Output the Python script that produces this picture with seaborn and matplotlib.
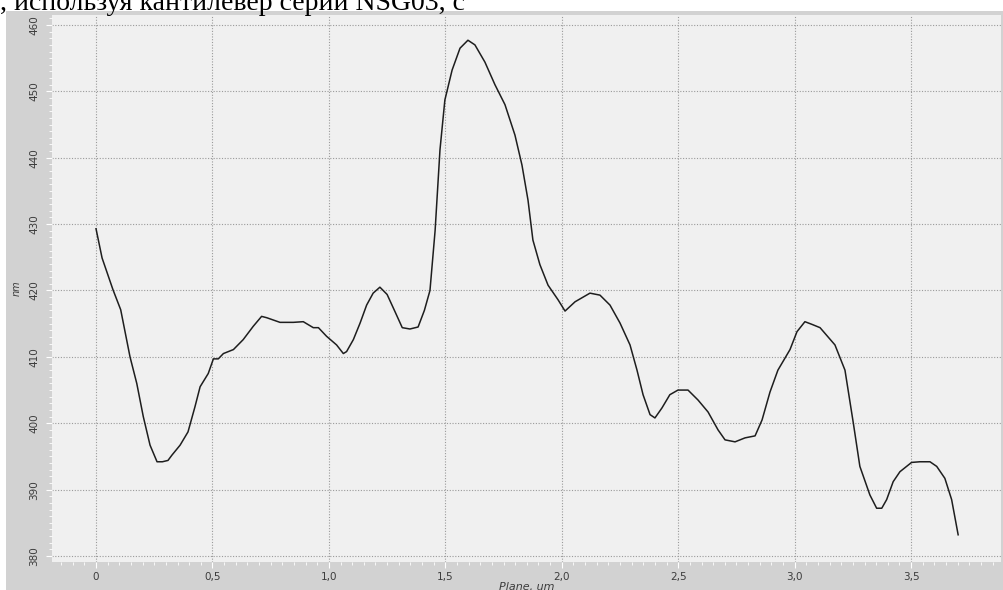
import numpy as np
import pandas as pd
import matplotlib
matplotlib.use("Agg")
import matplotlib.pyplot as plt
from matplotlib.patches import Rectangle
from matplotlib.ticker import MultipleLocator
import seaborn as sns

# profile
plane_um = [0, 0.026, 0.073, 0.106, 0.146, 0.175, 0.203, 0.232, 0.262, 0.285,
            0.309, 0.326, 0.361, 0.395, 0.425, 0.447, 0.482, 0.504, 0.525, 0.547,
            0.59, 0.632, 0.675, 0.711, 0.733, 0.79, 0.847, 0.89, 0.933, 0.955,
            0.99, 1.033, 1.062, 1.076, 1.105, 1.134, 1.162, 1.19, 1.219, 1.25,
            1.284, 1.315, 1.348, 1.383, 1.41, 1.434, 1.456, 1.477, 1.498, 1.529,
            1.563, 1.597, 1.627, 1.67, 1.713, 1.756, 1.799, 1.829, 1.855, 1.876,
            1.906, 1.941, 1.984, 2.014, 2.057, 2.121, 2.164, 2.207, 2.25, 2.293,
            2.323, 2.349, 2.379, 2.4, 2.43, 2.464, 2.499, 2.542, 2.585, 2.628,
            2.671, 2.701, 2.744, 2.787, 2.83, 2.86, 2.894, 2.928, 2.98, 3.01,
            3.044, 3.074, 3.109, 3.173, 3.216, 3.252, 3.28, 3.323, 3.352, 3.374,
            3.395, 3.423, 3.452, 3.502, 3.538, 3.581, 3.61, 3.645, 3.674, 3.702]
height_nm = [429.3, 424.9, 420.1, 417.1, 410.0, 406.0, 401.0, 396.7, 394.2, 394.2,
             394.4, 395.2, 396.7, 398.7, 402.5, 405.5, 407.5, 409.7, 409.7, 410.5,
             411.1, 412.6, 414.6, 416.1, 415.9, 415.2, 415.2, 415.3, 414.4, 414.4,
             413.1, 411.8, 410.5, 410.8, 412.6, 415.1, 417.8, 419.6, 420.5, 419.4,
             416.8, 414.4, 414.2, 414.5, 417.0, 420.0, 429.0, 441.2, 448.7, 453.2,
             456.5, 457.7, 457.0, 454.4, 451.0, 448.0, 443.4, 438.9, 433.6, 427.6,
             423.9, 420.8, 418.6, 416.9, 418.3, 419.6, 419.3, 417.8, 415.1, 411.8,
             408.0, 404.3, 401.3, 400.8, 402.3, 404.3, 405.0, 405.0, 403.5, 401.7,
             399.0, 397.5, 397.2, 397.8, 398.1, 400.5, 404.7, 408.0, 411.1, 413.8,
             415.3, 414.9, 414.4, 411.8, 408.0, 400.0, 393.5, 389.2, 387.2, 387.2,
             388.5, 391.2, 392.7, 394.1, 394.2, 394.2, 393.5, 391.7, 388.5, 383.2]

x_ticks = [0, 0.5, 1.0, 1.5, 2.0, 2.5, 3.0, 3.5]
x_tick_labels = ["0", "0,5", "1,0", "1,5", "2,0", "2,5", "3,0", "3,5"]
y_ticks = [380, 390, 400, 410, 420, 430, 440, 450, 460]

caption = ", используя кантилевер серии NSG03, с"

df = pd.DataFrame({"plane": plane_um, "nm": height_nm})

W, H = 1004, 590
fig = plt.figure(figsize=(W / 100, H / 100), dpi=100)
fig.patch.set_facecolor("white")

# grey panel behind the plot
fig.add_artist(Rectangle((6 / W, 0), 1 - 6 / W, 1 - 11 / H,
                         transform=fig.transFigure, facecolor="#d2d2d2",
                         edgecolor="none", zorder=0))

# line of document text above the chart (cut by the page crop)
fig.text(0.0, 1 - 10 / H, caption, fontsize=20, family="Liberation Serif",
         color="black", ha="left", va="baseline")

ax = fig.add_axes([52 / W, (H - 562) / H, (1001 - 52) / W, (562 - 15) / H])
ax.set_facecolor("#f0f0f0")

sns.lineplot(data=df, x="plane", y="nm", ax=ax, color="#1e1e1e",
             linewidth=1.1, sort=False)

ax.set_xlim(-0.189, 3.886)
ax.set_ylim(379.1, 461.5)

ax.set_xticks(x_ticks)
ax.set_xticklabels(x_tick_labels)
ax.set_yticks(y_ticks)
ax.set_yticklabels([str(v) for v in y_ticks], rotation=90, va="center")
ax.xaxis.set_minor_locator(MultipleLocator(0.05))
ax.yaxis.set_minor_locator(MultipleLocator(1))

ax.tick_params(which="both", colors="white", direction="out")
ax.tick_params(which="major", length=4, width=0.8, labelsize=7.5,
               labelcolor="#3c3c3c")
ax.tick_params(which="minor", length=2.5, width=0.6)
ax.tick_params(axis="y", pad=5)
ax.tick_params(axis="x", pad=3)

ax.grid(True, which="major", linestyle=(0, (1, 1.5)), color="#9a9a9a",
        linewidth=0.8)
for s in ax.spines.values():
    s.set_visible(False)

ax.set_xlabel("Plane, um", fontsize=8, style="italic", color="#3c3c3c",
              labelpad=0)
ax.set_ylabel("nm", fontsize=7, style="italic", color="#3c3c3c", labelpad=6)

fig.savefig("out.png", dpi=100)
